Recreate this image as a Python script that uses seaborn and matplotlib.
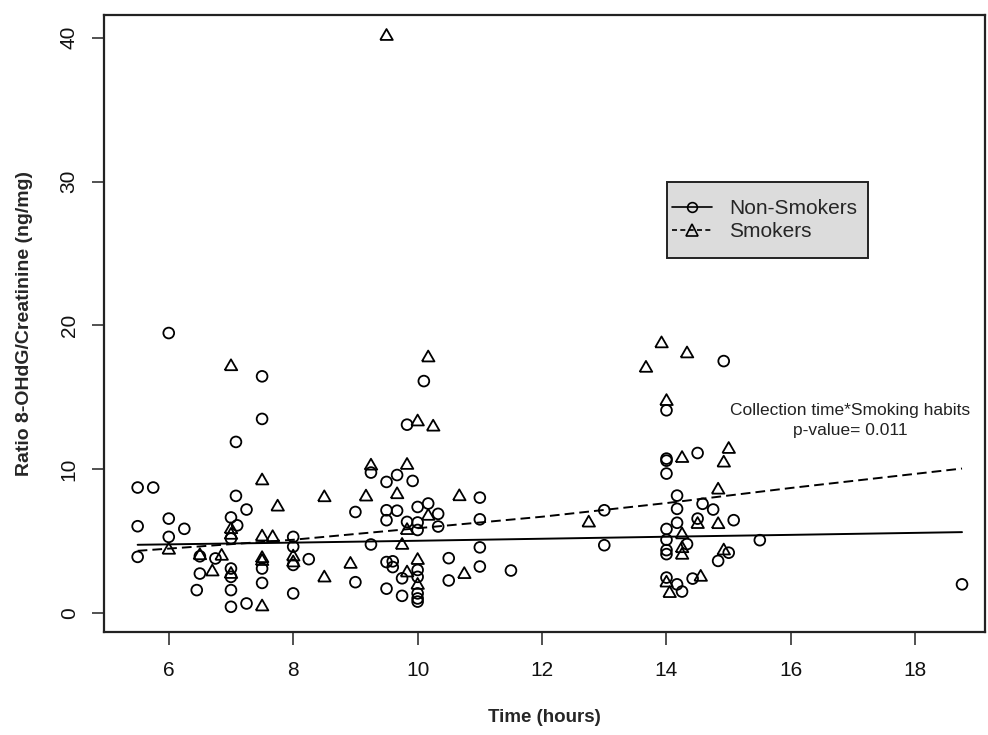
import numpy as np
import pandas as pd
import matplotlib
matplotlib.use('Agg')
import matplotlib.pyplot as plt
from matplotlib.lines import Line2D
from matplotlib.patches import Rectangle
import seaborn as sns

## values
# non-smokers, open circles
nonsmoker_time = [5.5, 5.5, 5.5, 5.75, 6.0, 6.0, 6.0, 6.25, 6.5, 6.5, 6.45, 6.75,
                  7.0, 7.0, 7.0, 7.0, 7.0, 7.0, 7.08, 7.08, 7.1, 7.25, 7.25,
                  7.5, 7.5, 7.5, 7.5, 8.0, 8.0, 8.0, 8.0, 8.25,
                  9.0, 9.0, 9.25, 9.25, 9.5, 9.5, 9.5, 9.5, 9.5, 9.6, 9.6,
                  9.67, 9.67, 9.75, 9.75, 9.83, 9.83, 9.92,
                  10.0, 10.0, 10.0, 10.0, 10.0, 10.0, 10.0, 10.0, 10.1, 10.17,
                  10.33, 10.33, 10.5, 10.5, 11.0, 11.0, 11.0, 11.0, 11.5,
                  13.0, 13.0, 14.0, 14.0, 14.0, 14.0, 14.0, 14.0, 14.0, 14.0, 14.0,
                  14.17, 14.17, 14.17, 14.17, 14.25, 14.33, 14.5, 14.5, 14.42,
                  14.58, 14.75, 14.83, 14.92, 15.0, 15.08, 15.5, 18.75]
nonsmoker_ratio = [8.73, 6.04, 3.91, 8.73, 19.47, 6.57, 5.3, 5.86, 3.95, 2.75, 1.6, 3.8,
                   6.65, 5.19, 3.1, 2.52, 1.6, 0.44, 8.15, 11.9, 6.1, 7.2, 0.67,
                   16.46, 13.5, 3.1, 2.1, 5.3, 4.62, 3.35, 1.37, 3.75,
                   7.03, 2.15, 9.77, 4.77, 9.12, 7.15, 6.46, 3.55, 1.7, 3.6, 3.2,
                   9.6, 7.12, 2.42, 1.2, 13.1, 6.34, 9.19,
                   7.38, 6.3, 5.78, 3.0, 2.52, 1.37, 1.02, 0.8, 16.13, 7.62,
                   6.9, 6.02, 3.82, 2.27, 8.03, 6.52, 4.57, 3.24, 2.96,
                   7.15, 4.72, 14.1, 10.74, 10.6, 9.7, 5.85, 5.1, 4.38, 4.1, 2.47,
                   8.17, 7.25, 6.28, 2.0, 1.5, 4.8, 11.13, 6.57, 2.4,
                   7.6, 7.2, 3.63, 17.52, 4.2, 6.46, 5.07, 2.0]

# smokers, open triangles
smoker_time = [6.0, 6.5, 6.7, 6.85, 7.0, 7.0, 7.0, 7.0,
               7.5, 7.5, 7.5, 7.5, 7.5, 7.67, 7.75, 8.0, 8.0,
               8.5, 8.5, 8.92, 9.17, 9.25, 9.5, 9.67, 9.75,
               9.83, 9.83, 9.83, 10.0, 10.0, 10.0, 10.17, 10.17, 10.25,
               10.67, 10.75, 12.75, 13.67, 13.92, 14.0, 14.0, 14.05,
               14.25, 14.25, 14.25, 14.25, 14.33, 14.5, 14.55,
               14.83, 14.83, 14.92, 14.92, 15.0]
smoker_ratio = [4.38, 4.0, 2.87, 3.96, 17.14, 5.81, 5.42, 2.7,
                9.2, 5.3, 3.8, 3.6, 0.44, 5.26, 7.38, 3.91, 3.5,
                8.03, 2.45, 3.4, 8.08, 10.23, 40.1, 8.24, 4.72,
                10.28, 5.75, 2.8, 13.3, 3.67, 1.94, 17.75, 6.74, 12.94,
                8.1, 2.69, 6.27, 17.03, 18.73, 14.72, 2.1, 1.37,
                10.76, 5.45, 4.49, 4.03, 18.03, 6.17, 2.5,
                8.56, 6.16, 10.44, 4.33, 11.39]

# fitted curves
fit_time = [5.5, 8.0, 10.0, 12.0, 14.0, 16.0, 18.75]
nonsmoker_fit = [4.75, 4.9, 5.03, 5.17, 5.31, 5.44, 5.63]
smoker_fit = [4.33, 5.1, 5.9, 6.7, 7.65, 8.7, 10.05]

x_ticks = [6, 8, 10, 12, 14, 16, 18]
y_ticks = [0, 10, 20, 30, 40]

nonsmokers = pd.DataFrame({'Time': nonsmoker_time, 'Ratio': nonsmoker_ratio})
smokers = pd.DataFrame({'Time': smoker_time, 'Ratio': smoker_ratio})

sns.set_style('ticks')
plt.rcParams['font.family'] = ['Liberation Sans', 'DejaVu Sans']

fig = plt.figure(figsize=(9.88, 7.35), dpi=100)
ax = fig.add_axes([0.105, 0.140, 0.892, 0.840])

# R style triangle (pch 2)
tri = [(-1.0, -0.58), (1.0, -0.58), (0.0, 1.15), (-1.0, -0.58)]

sns.scatterplot(data=nonsmokers, x='Time', y='Ratio', marker='o', s=60,
                facecolor='none', edgecolor='black', linewidth=1.3, ax=ax, zorder=3)
sns.scatterplot(data=smokers, x='Time', y='Ratio', marker=tri, s=108,
                facecolor='none', edgecolor='black', linewidth=1.3, ax=ax, zorder=3)

sns.lineplot(x=fit_time, y=nonsmoker_fit, color='black', lw=1.4, ax=ax, zorder=4)
sns.lineplot(x=fit_time, y=smoker_fit, color='black', lw=1.4,
             linestyle=(0, (5, 2.6)), ax=ax, zorder=4)

ax.set_xlim(4.955, 19.12)
ax.set_ylim(-1.32, 41.6)
ax.set_xticks(x_ticks)
ax.set_yticks(y_ticks)
ax.tick_params(axis='both', labelsize=15, length=9, width=1.2, color='#333333',
               labelcolor='#111111')
ax.tick_params(axis='x', pad=12)
ax.tick_params(axis='y', pad=9)
for lab in ax.get_yticklabels():
    lab.set_rotation(90)
    lab.set_va('center')

for sp in ax.spines.values():
    sp.set_visible(True)
    sp.set_color('#222222')
    sp.set_linewidth(1.6)

ax.set_xlabel('Time (hours)', fontsize=13.5, fontweight='bold', labelpad=21)
ax.set_ylabel('Ratio 8-OHdG/Creatinine (ng/mg)', fontsize=14, fontweight='bold', labelpad=19)

# legend box like R's legend(): grey box drawn behind a frameless legend
ax.add_patch(Rectangle((0.639, 0.606), 0.228, 0.123, transform=ax.transAxes,
                       facecolor='#dcdcdc', edgecolor='#222222', lw=1.4, zorder=5))
handles = [Line2D([0], [0], color='black', lw=1.2, marker='o', markersize=7,
                  markerfacecolor='none', markeredgewidth=1.2),
           Line2D([0], [0], color='black', lw=1.2, linestyle=(0, (3, 2)), marker='^',
                  markersize=8, markerfacecolor='none', markeredgewidth=1.2)]
leg = ax.legend(handles, ['Non-Smokers', 'Smokers'], loc='center left',
                bbox_to_anchor=(0.645, 0.667), fontsize=15, frameon=False,
                handlelength=1.9, handletextpad=0.85, borderpad=0,
                labelspacing=0.2, borderaxespad=0)
leg.set_zorder(6)

ax.text(16.95, 13.4, 'Collection time*Smoking habits\np-value= 0.011',
        ha='center', va='center', fontsize=12.5, linespacing=1.4, color='#222222')

plt.savefig('out.png', dpi=100)
plt.close()
